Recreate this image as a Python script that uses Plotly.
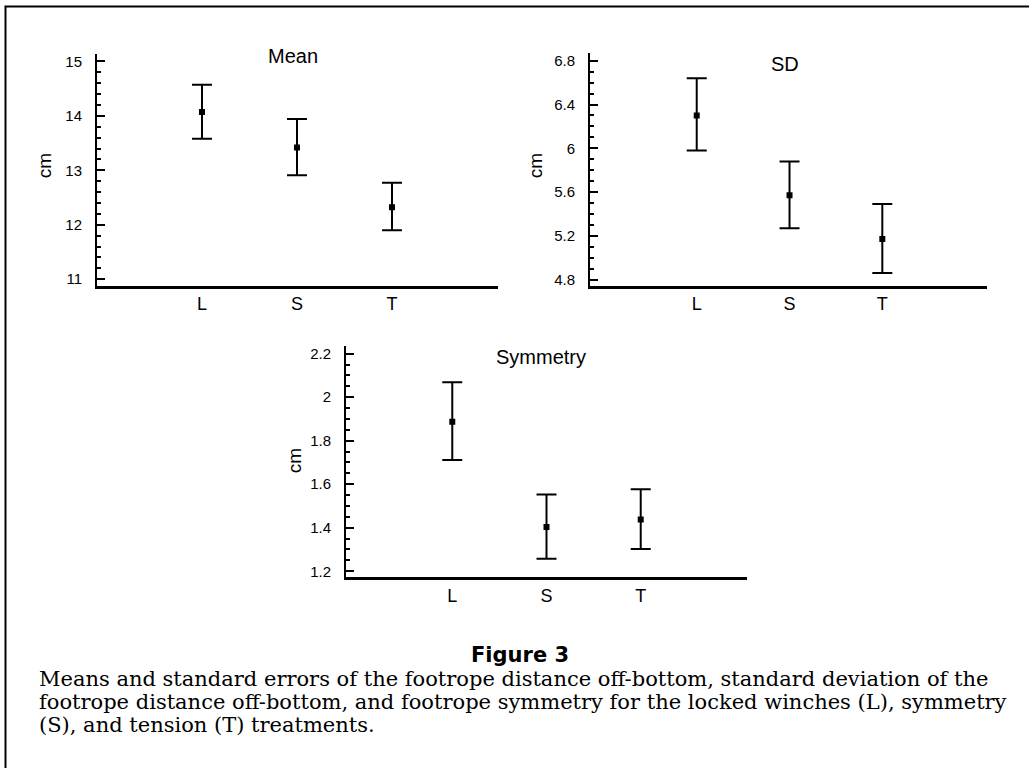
import plotly.graph_objects as go

W, H = 1029, 770

categories = ["L", "S", "T"]

mean_vals = [14.07, 13.42, 12.32]
mean_err_plus = [0.50, 0.52, 0.45]
mean_err_minus = [0.49, 0.51, 0.42]

sd_vals = [6.30, 5.57, 5.17]
sd_err_plus = [0.34, 0.31, 0.32]
sd_err_minus = [0.32, 0.30, 0.31]

sym_vals = [1.887, 1.403, 1.438]
sym_err_plus = [0.182, 0.150, 0.139]
sym_err_minus = [0.176, 0.145, 0.136]

panel_titles = ["Mean", "SD", "Symmetry"]
y_label = "cm"

caption_title = "Figure 3"
caption_lines = [
    "Means and standard errors of the footrope distance off-bottom, standard deviation of the",
    "footrope distance off-bottom, and footrope symmetry for the locked winches (L), symmetry",
    "(S), and tension (T) treatments.",
]

SANS = "Liberation Sans, Arial, sans-serif"


def px(x):
    return x / W


def py(y):
    return 1 - y / H


fig = go.Figure()

panels = [
    dict(vals=mean_vals, ep=mean_err_plus, em=mean_err_minus,
         xdom=(97, 498), ydom=(53, 286), xr=[-1.105, 3.116], yr=[10.877, 15.14],
         tick0=11, dtick=1, minor=0.2, xa="x", ya="y",
         title_pos=(293, 55), cm_pos=(44, 166)),
    dict(vals=sd_vals, ep=sd_err_plus, em=sd_err_minus,
         xdom=(590, 987), ydom=(52, 286), xr=[-1.15, 3.128], yr=[4.742, 6.873],
         tick0=4.8, dtick=0.4, minor=0.1, xa="x2", ya="y2",
         title_pos=(785, 63), cm_pos=(535, 166)),
    dict(vals=sym_vals, ep=sym_err_plus, em=sym_err_minus,
         xdom=(346, 747), ydom=(346, 578.5), xr=[-1.128, 3.128], yr=[1.1725, 2.2366],
         tick0=1.2, dtick=0.2, minor=0.05, xa="x3", ya="y3",
         title_pos=(541, 357), cm_pos=(294, 462)),
]

annotations = []
for i, p in enumerate(panels):
    fig.add_trace(go.Scatter(
        x=categories, y=p["vals"], mode="markers",
        marker=dict(symbol="square", size=6, color="black"),
        error_y=dict(type="data", symmetric=False, array=p["ep"], arrayminus=p["em"],
                     color="black", thickness=2, width=10),
        xaxis=p["xa"], yaxis=p["ya"], showlegend=False, hoverinfo="skip",
    ))
    suffix = "" if i == 0 else str(i + 1)
    xaxis = dict(
        domain=[px(p["xdom"][0]), px(p["xdom"][1])],
        anchor=p["ya"], range=p["xr"], type="category",
        showline=True, linecolor="black", linewidth=3,
        showgrid=False, zeroline=False, ticks="",
        tickfont=dict(family=SANS, size=18, color="black"),
        ticklabelstandoff=0, fixedrange=True,
    )
    yaxis = dict(
        domain=[py(p["ydom"][1]), py(p["ydom"][0])],
        anchor=p["xa"], range=p["yr"],
        showline=True, linecolor="black", linewidth=2,
        showgrid=False, zeroline=False,
        tickmode="linear", tick0=p["tick0"], dtick=p["dtick"],
        ticks="inside", ticklen=8, tickwidth=2, tickcolor="black",
        minor=dict(tickmode="linear", tick0=p["tick0"], dtick=p["minor"],
                   ticks="inside", ticklen=4, tickwidth=2, tickcolor="black", showgrid=False),
        tickfont=dict(family=SANS, size=15, color="black"),
        ticklabelstandoff=10, fixedrange=True,
    )
    fig.layout["xaxis" + suffix] = xaxis
    fig.layout["yaxis" + suffix] = yaxis
    tx, ty = p["title_pos"]
    annotations.append(dict(text=panel_titles[i], x=px(tx), y=py(ty), xref="paper", yref="paper",
                            xanchor="center", yanchor="middle", showarrow=False,
                            font=dict(family=SANS, size=20, color="black")))
    cx, cy = p["cm_pos"]
    annotations.append(dict(text=y_label, x=px(cx), y=py(cy), xref="paper", yref="paper",
                            xanchor="center", yanchor="middle", showarrow=False, textangle=-90,
                            font=dict(family=SANS, size=19, color="black")))

annotations.append(dict(text="<b>" + caption_title + "</b>", x=px(520), y=py(657),
                        xref="paper", yref="paper", xanchor="center", yanchor="middle",
                        showarrow=False,
                        font=dict(family="DejaVu Sans, sans-serif", size=21, color="black")))
for j, line in enumerate(caption_lines):
    annotations.append(dict(text=line, x=px(37), y=py(681 + j * 23),
                            xref="paper", yref="paper", xanchor="left", yanchor="middle",
                            showarrow=False,
                            font=dict(family="DejaVu Serif, serif", size=21, color="black")))

fig.update_layout(
    width=W, height=H, autosize=False,
    margin=dict(l=0, r=0, t=0, b=0),
    paper_bgcolor="white", plot_bgcolor="white",
    annotations=annotations,
    shapes=[dict(type="path", xref="paper", yref="paper",
                 path=f"M {px(5.5)} 0 L {px(5.5)} {py(5.5)} L 1 {py(5.5)}",
                 line=dict(color="black", width=2))],
)

fig.write_html("out.html", config={"displayModeBar": False},
               post_script="document.body.style.margin='0px';document.body.style.overflow='hidden';")
